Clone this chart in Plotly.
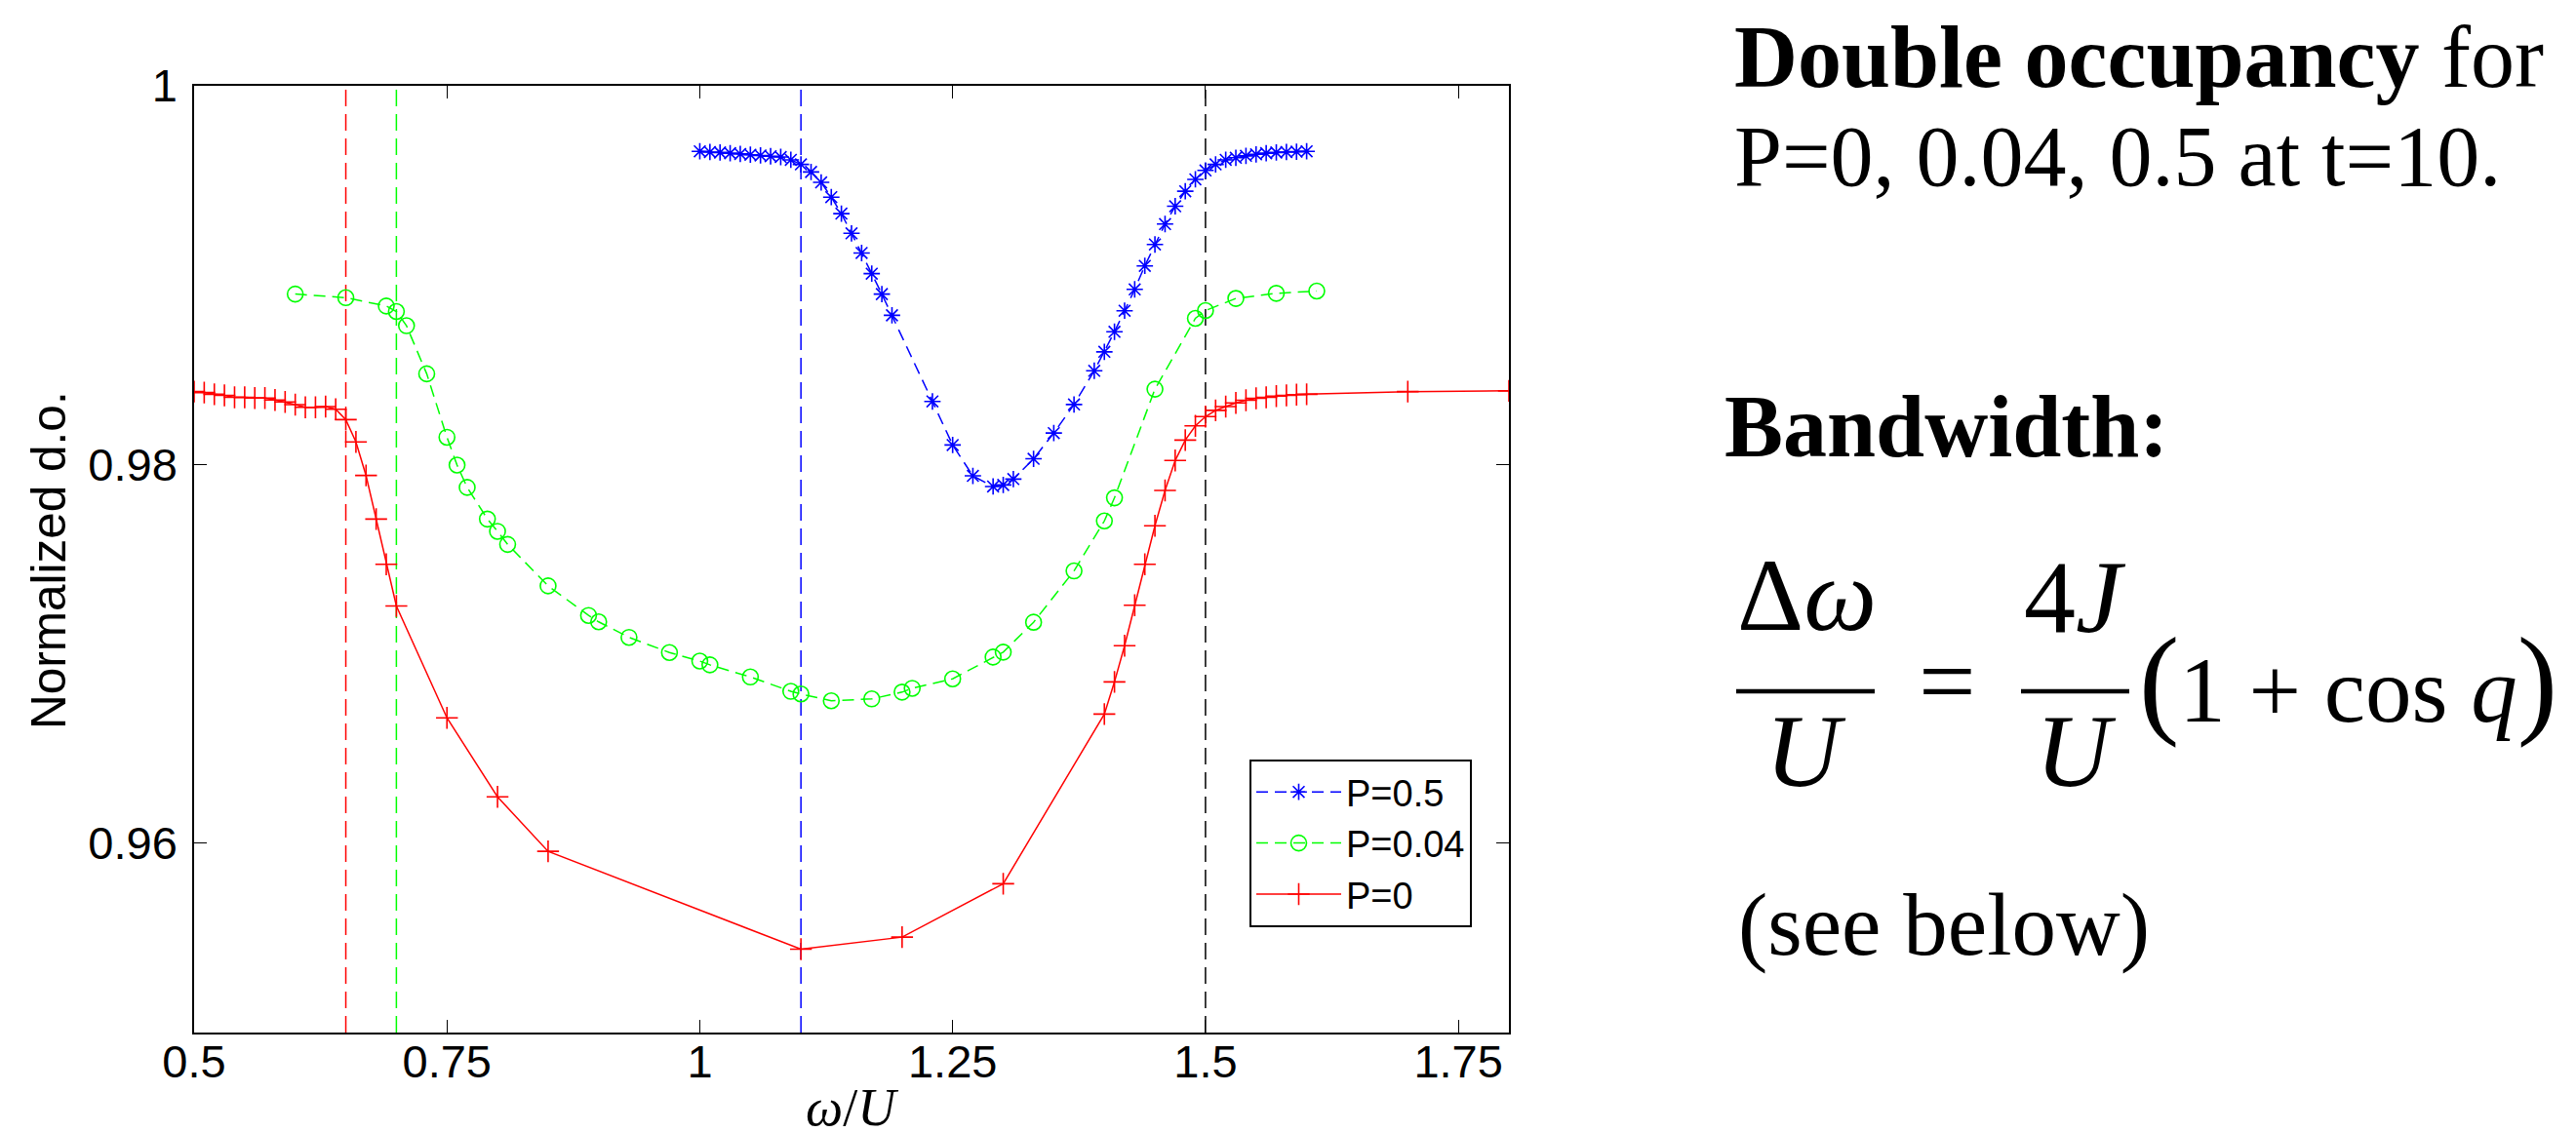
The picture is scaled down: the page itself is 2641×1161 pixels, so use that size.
import plotly.graph_objects as go

# ---------------- data ----------------
p05_x = [1.00, 1.01, 1.02, 1.03, 1.04, 1.05, 1.06, 1.07, 1.08, 1.09, 1.10, 1.11, 1.12, 1.13,
         1.14, 1.15, 1.16, 1.17, 1.18, 1.19, 1.23, 1.25, 1.27, 1.29, 1.30, 1.31, 1.33, 1.35,
         1.37, 1.39, 1.40, 1.41, 1.42, 1.43, 1.44, 1.45, 1.46, 1.47, 1.48, 1.49, 1.50, 1.51,
         1.52, 1.53, 1.54, 1.55, 1.56, 1.57, 1.58, 1.59, 1.60]
p05_y = [0.99654, 0.99650, 0.99648, 0.99644, 0.99640, 0.99636, 0.99632, 0.99628, 0.99624,
         0.99609, 0.99585, 0.99545, 0.99490, 0.99412, 0.99325, 0.99221, 0.99117, 0.99008,
         0.98900, 0.98788, 0.98333, 0.98103, 0.97940, 0.97884, 0.97892, 0.97923, 0.98030,
         0.98166, 0.98317, 0.98495, 0.98595, 0.98701, 0.98812, 0.98925, 0.99049, 0.99162,
         0.99270, 0.99364, 0.99443, 0.99506, 0.99553, 0.99585, 0.99609, 0.99620, 0.99630,
         0.99638, 0.99644, 0.99648, 0.99650, 0.99652, 0.99654]

p004_x = [0.60, 0.65, 0.69, 0.70, 0.71, 0.73, 0.75, 0.76, 0.77, 0.79, 0.80, 0.81, 0.85, 0.89,
          0.90, 0.93, 0.97, 1.00, 1.01, 1.05, 1.09, 1.10, 1.13, 1.17, 1.20, 1.21, 1.25, 1.29,
          1.30, 1.33, 1.37, 1.40, 1.41, 1.45, 1.49, 1.50, 1.53, 1.57, 1.61]
p004_y = [0.98900, 0.98881, 0.98837, 0.98808, 0.98733, 0.98479, 0.98144, 0.97997, 0.97879,
          0.97712, 0.97647, 0.97578, 0.97359, 0.97203, 0.97169, 0.97087, 0.97007, 0.96962,
          0.96942, 0.96878, 0.96802, 0.96788, 0.96752, 0.96762, 0.96798, 0.96818, 0.96868,
          0.96983, 0.97009, 0.97167, 0.97438, 0.97702, 0.97824, 0.98398, 0.98772, 0.98813,
          0.98877, 0.98904, 0.98916]

p0_x = [0.50, 0.51, 0.52, 0.53, 0.54, 0.55, 0.56, 0.57, 0.58, 0.59, 0.60, 0.61, 0.62, 0.63,
        0.64, 0.65, 0.66, 0.67, 0.68, 0.69, 0.70, 0.75, 0.80, 0.85, 1.10, 1.20, 1.30, 1.40,
        1.41, 1.42, 1.43, 1.44, 1.45, 1.46, 1.47, 1.48, 1.49, 1.50, 1.51, 1.52, 1.53, 1.54,
        1.55, 1.56, 1.57, 1.58, 1.59, 1.60, 1.70, 1.80]
p0_y = [0.98385, 0.98380, 0.98371, 0.98365, 0.98355, 0.98355, 0.98351, 0.98351, 0.98341,
        0.98330, 0.98316, 0.98302, 0.98302, 0.98306, 0.98292, 0.98237, 0.98119, 0.97942,
        0.97712, 0.97473, 0.97253, 0.96662, 0.96245, 0.95957, 0.95440, 0.95504, 0.95786,
        0.96682, 0.96852, 0.97043, 0.97257, 0.97473, 0.97676, 0.97863, 0.98021, 0.98129,
        0.98204, 0.98253, 0.98286, 0.98306, 0.98325, 0.98339, 0.98350, 0.98355, 0.98361,
        0.98365, 0.98369, 0.98371, 0.98385, 0.98389]

vline_x = [0.65, 0.70, 1.10, 1.50]
vline_colors = ["#ff0000", "#00ff00", "#0000ff", "#000000"]

x_ticks = [0.5, 0.75, 1.0, 1.25, 1.5, 1.75]
x_ticktext = ["0.5", "0.75", "1", "1.25", "1.5", "1.75"]
y_ticks = [0.96, 0.98, 1.0]
y_ticktext = ["0.96", "0.98", "1"]

# ---------------- layout geometry ----------------
W, H = 2641, 1161
L, R, T, B = 191, 1539, 80, 1051   # plot area in pixels


def px(x):
    return (x - L) / (R - L)


def py(y):
    return (B - y) / (B - T)


SANS = "Liberation Sans, Arial, Helvetica, sans-serif"
SERIF = "Liberation Serif, Times New Roman, serif"

fig = go.Figure()

fig.add_trace(go.Scatter(
    x=p05_x, y=p05_y, name="P=0.5", mode="lines+markers",
    line=dict(color="#0000ff", width=1.5, dash="12px,7px"),
    marker=dict(symbol="asterisk-open", size=14, color="#0000ff",
                line=dict(color="#0000ff", width=1.6)),
    cliponaxis=False,
))
fig.add_trace(go.Scatter(
    x=p004_x, y=p004_y, name="P=0.04", mode="lines+markers",
    line=dict(color="#00ff00", width=1.5, dash="12px,7px"),
    marker=dict(symbol="circle-open", size=16, color="#00ff00",
                line=dict(color="#00ff00", width=1.6)),
    cliponaxis=False,
))
fig.add_trace(go.Scatter(
    x=p0_x, y=p0_y, name="P=0", mode="lines+markers",
    line=dict(color="#ff0000", width=1.5),
    marker=dict(symbol="cross-thin-open", size=16, color="#ff0000",
                line=dict(color="#ff0000", width=1.6)),
    cliponaxis=True,
))

shapes = []
for xv, c in zip(vline_x, vline_colors):
    shapes.append(dict(type="line", xref="x", yref="paper", x0=xv, x1=xv, y0=0, y1=1,
                       line=dict(color=c, width=1.5, dash="17px,8px"), layer="below"))

# fraction bars of the formula
shapes.append(dict(type="line", xref="paper", yref="paper", x0=px(1772), x1=px(1914),
                   y0=py(701), y1=py(701), line=dict(color="black", width=4.5)))
shapes.append(dict(type="line", xref="paper", yref="paper", x0=px(2064), x1=px(2175),
                   y0=py(701), y1=py(701), line=dict(color="black", width=4.5)))

ann = []


def text(t, x, y, size, family=SERIF, xanchor="center", yanchor="middle", angle=0):
    ann.append(dict(text=t, x=px(x), y=py(y), xref="paper", yref="paper",
                    xanchor=xanchor, yanchor=yanchor, showarrow=False, textangle=angle,
                    font=dict(family=family, size=size, color="black")))


# axis titles
text("Normalized d.o.", 41, 567, 49.5, family=SANS, angle=-90)
text("<i>ω</i>/<i>U</i>", 865, 1128, 54)

# right-hand text
text("<b>Double occupancy</b> for", 1768, 50, 90, xanchor="left")
text("P=0, 0.04, 0.5 at t=10.", 1768, 153, 88, xanchor="left")
text("<b>Bandwidth:</b>", 1758, 430, 90, xanchor="left")

# formula
text("Δ<i>ω</i>", 1844, 602, 106)
text("<i>U</i>", 1843, 762, 106)
text("=", 1988, 690, 104)
text("4<i>J</i>", 2119, 604, 106)
text("<i>U</i>", 2120, 762, 106)
big = "<span style='font-size:124px'>{}</span>"
text(big.format("(") + "1 + cos <i>q</i>" + big.format(")"), 2399, 690, 95)
text("(see below)", 1985, 940, 91)

fig.update_layout(
    width=W, height=H, autosize=False,
    margin=dict(l=L, r=W - R, t=T, b=H - B, pad=0),
    paper_bgcolor="white", plot_bgcolor="white",
    showlegend=True,
    legend=dict(x=px(1501), y=py(771), xanchor="right", yanchor="top",
                bgcolor="white", bordercolor="black", borderwidth=2,
                font=dict(family=SANS, size=38, color="black"),
                itemwidth=87, tracegroupgap=0),
    shapes=shapes,
    annotations=ann,
)

axis_common = dict(showgrid=False, zeroline=False, showline=True, linecolor="black",
                   linewidth=1.5, mirror="ticks", ticks="inside", ticklen=13,
                   tickwidth=1.2, tickcolor="black",
                   tickfont=dict(family=SANS, size=47, color="black"))
fig.update_xaxes(range=[0.5, 1.8], tickvals=x_ticks, ticktext=x_ticktext,
                 ticklabelstandoff=-12, **axis_common)
fig.update_yaxes(range=[0.95, 1.0], tickvals=y_ticks, ticktext=y_ticktext,
                 ticklabelstandoff=6, **axis_common)

fig.write_html("out.html")
